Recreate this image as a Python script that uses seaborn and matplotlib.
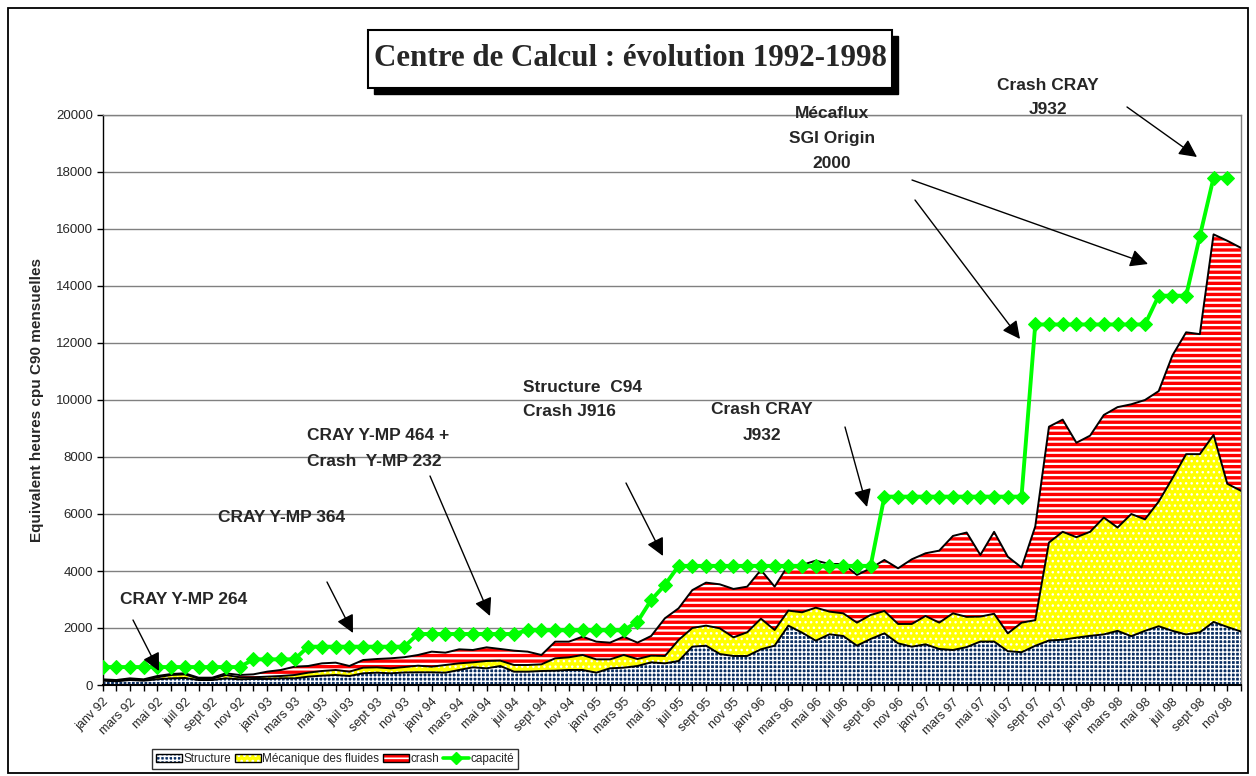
import numpy as np
import pandas as pd
import matplotlib
matplotlib.use('Agg')
import matplotlib.pyplot as plt
import seaborn as sns
from matplotlib.patches import Patch, Rectangle
from matplotlib.lines import Line2D

# ---------------- data (monthly, janv 92 .. déc 98) ----------------
structure = [152, 129, 175, 152, 199, 234, 246, 175, 175, 234,
             199, 211, 211, 234, 234, 293, 328, 351, 316, 410,
             433, 410, 440, 445, 445, 433, 527, 620, 585, 667,
             468, 468, 491, 503, 527, 527, 433, 585, 608, 667,
             796, 760, 842, 1345, 1380, 1088, 1018, 1018, 1252, 1380,
             2083, 1837, 1556, 1778, 1720, 1380, 1615, 1813, 1462, 1345,
             1427, 1264, 1228, 1330, 1525, 1525, 1187, 1150, 1375, 1562,
             1587, 1662, 1725, 1775, 1900, 1712, 1900, 2062, 1900, 1775,
             1850, 2212, 2037, 1875]
fluides = [23, 23, 24, 23, 70, 117, 128, 47, 47, 117,
           70, 58, 82, 82, 117, 140, 163, 176, 152, 198,
           187, 175, 190, 233, 198, 269, 233, 175, 257, 187,
           234, 234, 234, 433, 444, 526, 467, 315, 445, 245,
           234, 258, 738, 655, 703, 901, 655, 831, 1076, 550,
           526, 714, 1158, 796, 795, 808, 842, 784, 679, 796,
           995, 924, 1287, 1060, 875, 975, 625, 1037, 900, 3438,
           3788, 3525, 3650, 4100, 3625, 4288, 3912, 4375, 5350, 6325,
           6250, 6563, 5025, 4937]
crash = [24, 23, 35, 24, 47, 35, 36, 35, 35, 59,
         82, 105, 175, 211, 292, 234, 269, 257, 199, 269,
         292, 351, 345, 375, 527, 433, 492, 433, 480, 410,
         503, 468, 328, 585, 550, 643, 621, 586, 643, 574,
         690, 1322, 1111, 1330, 1509, 1544, 1697, 1602, 1708, 1521,
         1603, 1661, 1650, 1673, 1732, 1673, 1638, 1790, 1954, 2270,
         2199, 2527, 2715, 2960, 2163, 2875, 2688, 1938, 3287, 4062,
         3937, 3313, 3375, 3600, 4225, 3850, 4188, 3875, 4312, 4275,
         4212, 7037, 8525, 8525]
capacite = [630, 630, 630, 630, 630, 630, 630, 630, 630, 630, 630,
            900, 900, 900, 900,
            1345, 1345, 1345, 1345, 1345, 1345, 1345, 1345,
            1790, 1790, 1790, 1790, 1790, 1790, 1790, 1790,
            1920, 1920, 1920, 1920, 1920, 1920, 1920, 1920,
            2220, 2980, 3510,
            4180, 4180, 4180, 4180, 4180, 4180, 4180, 4180, 4180, 4180,
            4180, 4180, 4180, 4180, 4180,
            6610, 6610, 6610, 6610, 6610, 6610, 6610, 6610, 6610, 6610, 6610,
            12650, 12650, 12650, 12650, 12650, 12650, 12650, 12650, 12650,
            13660, 13660, 13660,
            15750,
            17800, 17800,
            np.nan]
tick_labels = ['janv 92', 'mars 92', 'mai 92', 'juil 92', 'sept 92', 'nov 92',
               'janv 93', 'mars 93', 'mai 93', 'juil 93', 'sept 93', 'nov 93',
               'janv 94', 'mars 94', 'mai 94', 'juil 94', 'sept 94', 'nov 94',
               'janv 95', 'mars 95', 'mai 95', 'juil 95', 'sept 95', 'nov 95',
               'janv 96', 'mars 96', 'mai 96', 'juil 96', 'sept 96', 'nov 96',
               'janv 97', 'mars 97', 'mai 97', 'juil 97', 'sept 97', 'nov 97',
               'janv 98', 'mars 98', 'mai 98', 'juil 98', 'sept 98', 'nov 98']
y_ticks = [0, 2000, 4000, 6000, 8000, 10000, 12000, 14000, 16000, 18000, 20000]

# ---------------- style ----------------
sns.set_theme(style='white')
plt.rcParams['font.family'] = ['Liberation Sans', 'DejaVu Sans']
plt.rcParams['hatch.linewidth'] = 1.2

W, H = 1256, 776
fig = plt.figure(figsize=(W / 100, H / 100), dpi=100)
fig.patch.set_facecolor('white')
ax = fig.add_axes([102.5 / W, 1 - 685 / H, (1241 - 102.5) / W, (685 - 115) / H])
ax.set_facecolor('white')

df = pd.DataFrame({'mois': np.arange(len(structure)),
                   'Structure': structure,
                   'fluides': fluides,
                   'crash': crash,
                   'capacite': capacite})
x = df['mois']
s1 = df['Structure']
s2 = s1 + df['fluides']
s3 = s2 + df['crash']

NAVY = '#0B2F63'
YEL = '#FFFF00'
RED = '#FF0000'
GREEN = '#00FF00'

c1 = ax.fill_between(x, 0, s1, facecolor=NAVY, edgecolor='white', hatch='++++', linewidth=0, zorder=2)
c2 = ax.fill_between(x, s1, s2, facecolor=YEL, edgecolor='white', hatch='...', linewidth=0, zorder=2)
c3 = ax.fill_between(x, s2, s3, facecolor=RED, edgecolor='white', hatch='---', linewidth=0, zorder=2)
for c, lw in ((c1, 1.0), (c2, 1.0), (c3, 1.6)):
    try:
        c.set_hatch_linewidth(lw)
    except Exception:
        pass

for s in (s1, s2, s3):
    sns.lineplot(x=x, y=s, color='black', lw=1.4, ax=ax, zorder=3)

sns.lineplot(x=x, y=df['capacite'], color=GREEN, lw=2.8, marker='D', markersize=7,
             markeredgecolor=GREEN, markerfacecolor=GREEN, ax=ax, zorder=4)

ax.set_xlim(0, len(structure) - 1)
ax.set_ylim(0, 20000)
ax.set_xlabel('')
ax.set_ylabel('')
ax.set_yticks(y_ticks)
ax.set_yticklabels([str(v) for v in y_ticks], fontsize=9.5)
ax.set_xticks(np.arange(0, 84, 2))
ax.set_xticklabels(tick_labels, rotation=45, ha='right', rotation_mode='anchor', fontsize=9)
ax.set_xticks(np.arange(0, 84), minor=True)
ax.tick_params(axis='x', which='both', bottom=True, direction='out', length=4, width=1,
               color='black', pad=4)
ax.tick_params(axis='y', left=True, direction='out', length=4, width=1, color='black', pad=3)
ax.yaxis.grid(True, color='#808080', lw=1)
ax.xaxis.grid(False)
ax.set_axisbelow(True)
for side in ('top', 'right'):
    ax.spines[side].set_color('#808080')
    ax.spines[side].set_linewidth(1)
ax.spines['left'].set_color('black')
ax.spines['left'].set_linewidth(1)
ax.spines['bottom'].set_color('black')
ax.spines['bottom'].set_linewidth(1.5)


def fp(px, py):
    return (px / W, 1 - py / H)


# y-axis label
fig.text(*fp(37, 400), 'Equivalent heures cpu C90 mensuelles', rotation=90,
         ha='center', va='center', fontsize=11, fontweight='bold')

# title box with shadow
fig.patches.append(Rectangle(fp(374, 94), 524 / W, 58 / H, transform=fig.transFigure,
                             facecolor='black', edgecolor='black', zorder=1))
fig.patches.append(Rectangle(fp(368, 88), 524 / W, 58 / H, transform=fig.transFigure,
                             facecolor='white', edgecolor='black', lw=1.5, zorder=2))
fig.text(*fp(630, 59), 'Centre de Calcul : évolution 1992-1998', ha='center', va='center',
         fontsize=22.3, fontweight='bold', family=['Liberation Serif', 'DejaVu Serif'], zorder=3)

# outer frame
fig.patches.append(Rectangle(fp(8, 773), 1240 / W, 765 / H, transform=fig.transFigure,
                             fill=False, edgecolor='black', lw=1.3, zorder=5))

# annotations
texts = [
    ('CRAY Y-MP 264', 120, 600, 'left'),
    ('CRAY Y-MP 364', 218, 517, 'left'),
    ('CRAY Y-MP 464 +', 307, 436, 'left'),
    ('Crash  Y-MP 232', 307, 462, 'left'),
    ('Structure  C94', 523, 388, 'left'),
    ('Crash J916', 523, 412, 'left'),
    ('Crash CRAY', 762, 410, 'center'),
    ('J932', 762, 435, 'center'),
    ('Mécaflux', 832, 113, 'center'),
    ('SGI Origin', 832, 138, 'center'),
    ('2000', 832, 163, 'center'),
    ('Crash CRAY', 1048, 85, 'center'),
    ('J932', 1048, 109, 'center'),
]
for s, px, py, ha in texts:
    fig.text(*fp(px, py), s, ha=ha, va='center', fontsize=12.5, fontweight='bold', zorder=6)

arrows = [
    ((133, 620), (159, 671)),
    ((327, 582), (353, 633)),
    ((430, 476), (490, 616)),
    ((626, 483), (663, 556)),
    ((845, 427), (867, 507)),
    ((912, 180), (1148, 264)),
    ((915, 200), (1020, 339)),
    ((1127, 107), (1197, 157)),
]
for tail, head in arrows:
    ax.annotate('', xy=fp(*head), xytext=fp(*tail), xycoords='figure fraction',
                textcoords='figure fraction', annotation_clip=False,
                arrowprops=dict(arrowstyle='-|>,head_length=0.9,head_width=0.45',
                                color='black', lw=1, mutation_scale=12,
                                shrinkA=0, shrinkB=0), zorder=6)

# legend
h_struct = (Patch(facecolor=NAVY, edgecolor='white', hatch='++++', lw=0),
            Patch(facecolor='none', edgecolor='black', lw=1))
h_flu = (Patch(facecolor=YEL, edgecolor='white', hatch='...', lw=0),
         Patch(facecolor='none', edgecolor='black', lw=1))
h_crash = (Patch(facecolor=RED, edgecolor='white', hatch='---', lw=0),
           Patch(facecolor='none', edgecolor='black', lw=1))
h_cap = Line2D([], [], color=GREEN, lw=2.6, marker='D', markersize=6.5,
               markeredgecolor=GREEN, markerfacecolor=GREEN)
leg = fig.legend([h_struct, h_flu, h_crash, h_cap],
                 ['Structure', 'Mécanique des fluides', 'crash', 'capacité'],
                 loc='center', bbox_to_anchor=fp(335, 759), ncol=4, frameon=True,
                 fancybox=False, edgecolor='black', fontsize=8.5, handlelength=2.2,
                 handleheight=0.65, columnspacing=0.3, handletextpad=0.15,
                 borderpad=0.3, borderaxespad=0)
leg.get_frame().set_linewidth(1)

fig.savefig('out.png', dpi=100, facecolor='white')
